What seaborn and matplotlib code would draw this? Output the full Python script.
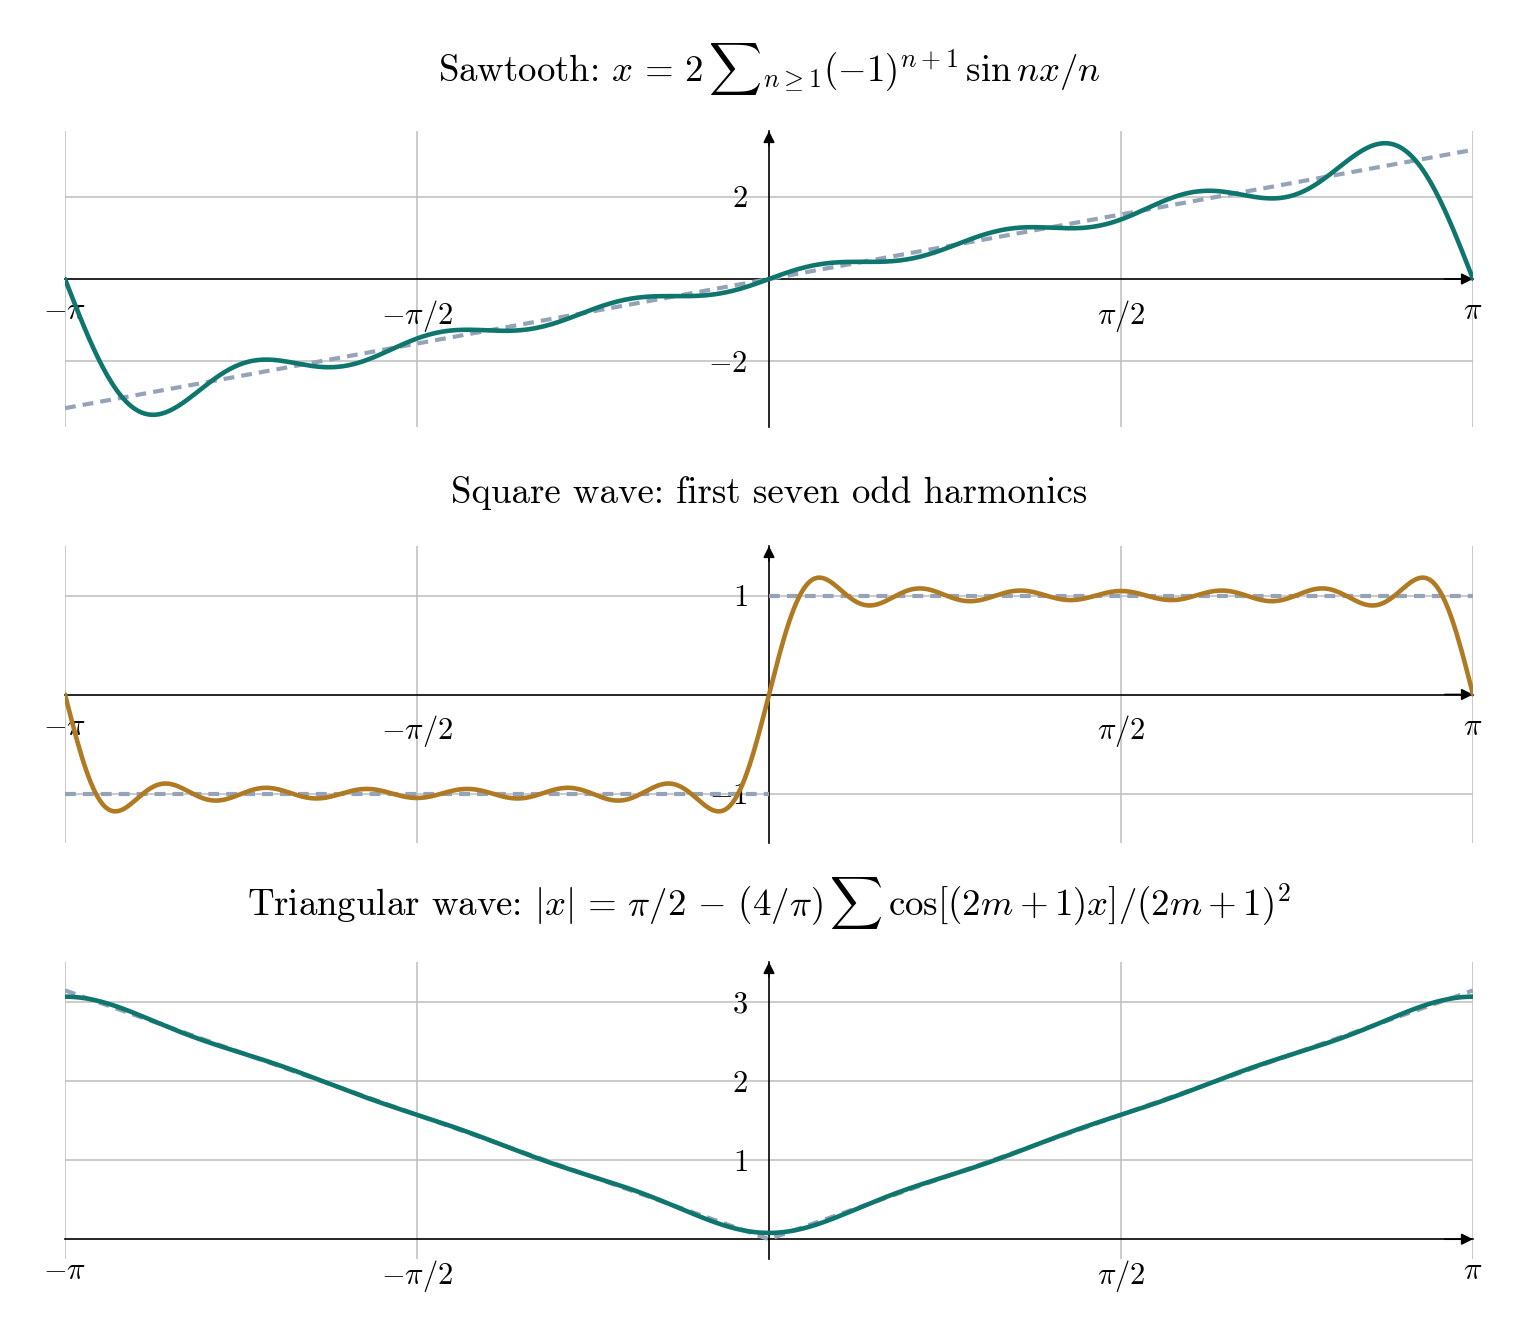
import numpy as np
import pandas as pd
import matplotlib
matplotlib.use("Agg")
import matplotlib.pyplot as plt
import seaborn as sns

# harmonic numbers and Fourier coefficients of each partial sum
saw_n = [1, 2, 3, 4, 5, 6, 7]
saw_b = [2.0, -1.0, 2 / 3, -0.5, 0.4, -1 / 3, 2 / 7]          # sin terms
sq_n = [1, 3, 5, 7, 9, 11, 13]
sq_b = [4 / np.pi / k for k in sq_n]                          # sin terms
tri_n = [1, 3, 5, 7]
tri_a = [-4 / np.pi / k ** 2 for k in tri_n]                  # cos terms
tri_a0 = np.pi / 2

# exact target functions (breakpoints)
saw_x = [-np.pi, np.pi]
saw_y = [-np.pi, np.pi]
sq_x = [-np.pi, 0, 0, np.pi]
sq_y = [-1, -1, 1, 1]
sq_part = [0, 0, 1, 1]
tri_x = [-np.pi, 0, np.pi]
tri_y = [np.pi, 0, np.pi]

titles = [r"Sawtooth: $x \,=\, 2\,{\sum}_{n\geq 1}(-1)^{n+1}\,\sin nx/n$",
          "Square wave: first seven odd harmonics",
          r"Triangular wave: $|x| \,=\, \pi/2 \,-\, (4/\pi)\,\sum\,\cos[(2m+1)x]/(2m+1)^2$"]
title_pads = [36, 31, 34]
xtick_vals = [-np.pi, -np.pi / 2, np.pi / 2, np.pi]
xtick_labels = [r"$-\pi$", r"$-\pi/2$", r"$\pi/2$", r"$\pi$"]

TEAL = "#0f766e"
GOLD = "#b07a22"
DASH = "#94a3b8"
GRID = "#bdbdbd"

sns.set_theme(style="white")
plt.rcParams["font.family"] = "serif"
plt.rcParams["font.serif"] = ["cmr10", "DejaVu Serif"]
plt.rcParams["mathtext.fontset"] = "cm"
plt.rcParams["axes.formatter.use_mathtext"] = True
plt.rcParams["axes.unicode_minus"] = False

x = np.linspace(-np.pi, np.pi, 600)
saw = sum(b * np.sin(k * x) for k, b in zip(saw_n, saw_b))
sq = sum(b * np.sin(k * x) for k, b in zip(sq_n, sq_b))
tri = tri_a0 + sum(a * np.cos(k * x) for k, a in zip(tri_n, tri_a))

fig = plt.figure(figsize=(15.27, 13.36), dpi=100)
W, H = 1527, 1336
left, right = 65, 1473
boxes = [(131, 427), (546, 843), (962, 1259)]

panels = [
    dict(curve=saw, color=TEAL, ref=pd.DataFrame({"x": saw_x, "y": saw_y, "p": [0, 0]}),
         ylim=(-3.6, 3.6), yticks=[-2, 2]),
    dict(curve=sq, color=GOLD, ref=pd.DataFrame({"x": sq_x, "y": sq_y, "p": sq_part}),
         ylim=(-1.5, 1.5), yticks=[-1, 1]),
    dict(curve=tri, color=TEAL, ref=pd.DataFrame({"x": tri_x, "y": tri_y, "p": [0, 0, 0]}),
         ylim=(-0.25, 3.5), yticks=[1, 2, 3]),
]

for (top, bot), p, title, tpad in zip(boxes, panels, titles, title_pads):
    ax = fig.add_axes([left / W, 1 - bot / H, (right - left) / W, (bot - top) / H])
    sns.lineplot(data=p["ref"], x="x", y="y", units="p", estimator=None, ax=ax,
                 color=DASH, linewidth=3, linestyle=(0, (2.6, 1.7)), zorder=3)
    sns.lineplot(x=x, y=p["curve"], ax=ax, color=p["color"], linewidth=3.3, zorder=4)
    ax.set_xlim(-np.pi, np.pi)
    ax.set_ylim(*p["ylim"])
    ax.set_xlabel("")
    ax.set_ylabel("")
    ax.set_xticks(xtick_vals, xtick_labels)
    ax.set_yticks(p["yticks"], [r"$%d$" % v for v in p["yticks"]])
    ax.grid(True, color=GRID, linewidth=1.1)
    ax.set_axisbelow(True)
    for s in ["top", "right"]:
        ax.spines[s].set_visible(False)
    for s in ["left", "bottom"]:
        ax.spines[s].set_position(("data", 0))
        ax.spines[s].set_color("black")
        ax.spines[s].set_linewidth(1.2)
        ax.spines[s].set_zorder(2.5)
    ax.tick_params(direction="inout", length=7, width=0.8, color="0.45",
                   labelsize=22, labelcolor="black")
    ax.tick_params(axis="x", pad=10)
    ax.tick_params(axis="y", pad=12)
    # arrow heads at the axis ends
    ax.annotate("", xy=(1, 0), xycoords=("axes fraction", "data"),
                xytext=(0.98, 0), textcoords=("axes fraction", "data"),
                arrowprops=dict(arrowstyle="-|>", color="black", lw=1.2,
                                mutation_scale=17, shrinkA=0, shrinkB=0))
    ax.annotate("", xy=(0, 1), xycoords=("data", "axes fraction"),
                xytext=(0, 0.95), textcoords=("data", "axes fraction"),
                arrowprops=dict(arrowstyle="-|>", color="black", lw=1.2,
                                mutation_scale=17, shrinkA=0, shrinkB=0))
    ax.set_title(title, fontsize=26.5, pad=tpad, color="black")

fig.savefig("out.png", dpi=100)
